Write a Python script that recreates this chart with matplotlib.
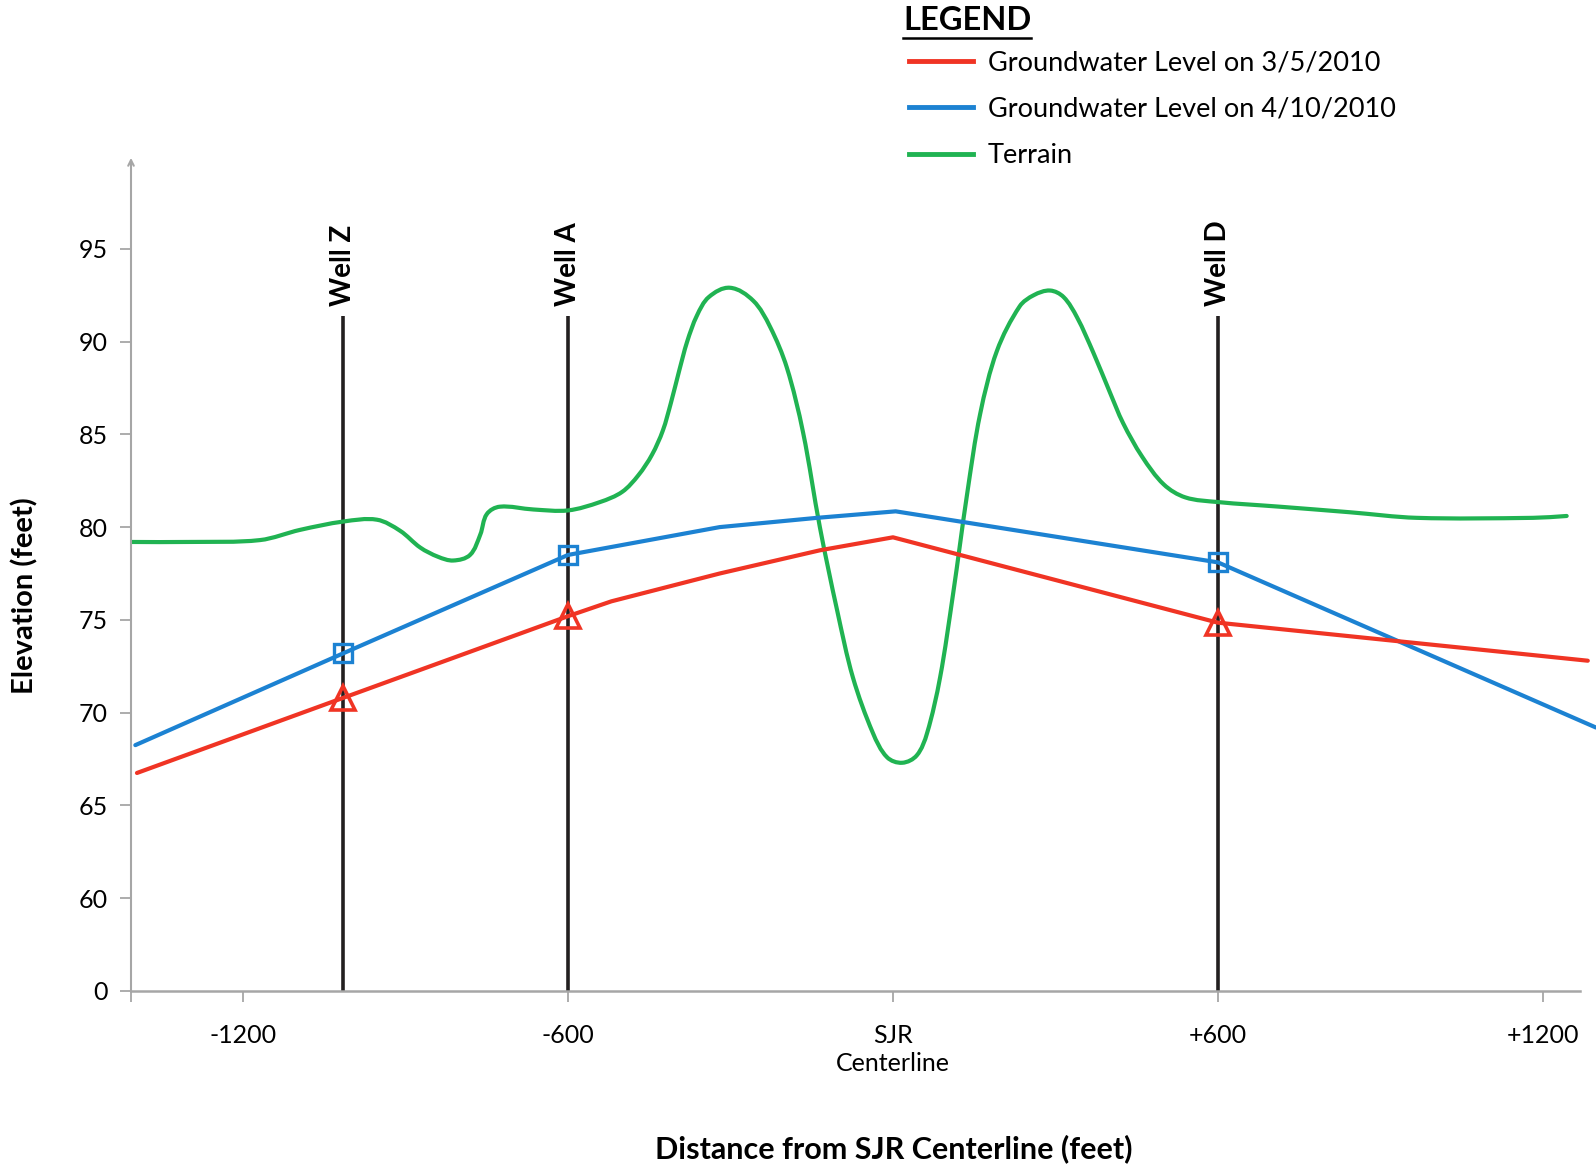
import matplotlib
matplotlib.use("Agg")
import matplotlib.pyplot as plt
import numpy as np
from matplotlib.lines import Line2D
from matplotlib.path import Path
from matplotlib.patches import PathPatch

plt.rcParams['font.family'] = ['Lato', 'DejaVu Sans']

# distance from SJR centerline (feet) and elevation (feet)
red_x = [-1396, -1015, -600, -520, -320, -135, 0, 600, 1283]
red_y = [66.75, 70.8, 75.2, 76.0, 77.5, 78.75, 79.45, 74.85, 72.8]

blue_x = [-1399, -1015, -600, -320, -140, 5, 600, 1298]
blue_y = [68.25, 73.2, 78.5, 80.0, 80.5, 80.85, 78.1, 69.2]

terrain_x = [-1410, -1300, -1169, -1095, -1015, -953, -910, -873, -840, -812,
             -781, -762, -750, -726, -664, -600, -541, -500, -470,
             -445, -425, -410, -395, -380, -362, -340, -301, -258, -227,
             -196, -166, -135, -103, -74, -37, -11, 17, 44, 63,
             87, 111, 137, 161, 192, 234, 260, 290, 315, 340,
             370, 400, 425, 460, 500, 540, 600, 714, 844,
             967, 1182, 1244]
terrain_y = [79.2, 79.2, 79.3, 79.85, 80.3, 80.4, 79.8, 78.9, 78.4, 78.2,
             78.5, 79.6, 80.7, 81.1, 80.95, 80.9, 81.35, 81.9, 82.8,
             83.9, 85.2, 86.7, 88.4, 90.0, 91.4, 92.4, 92.9, 92.2, 90.8,
             88.6, 85.1, 80.0, 75.5, 71.9, 68.9, 67.6, 67.3, 67.7, 68.9,
             71.9, 76.4, 81.8, 86.1, 89.5, 91.9, 92.5, 92.75, 92.4, 91.3,
             89.4, 87.3, 85.6, 83.8, 82.3, 81.6, 81.35, 81.1, 80.8,
             80.5, 80.5, 80.6]

wells = ["Well Z", "Well A", "Well D"]
well_x = [-1015, -600, 600]
well_top = 91.4

x_ticks = [-1200, -600, 0, 600, 1200]
x_labels = ["-1200", "-600", "SJR\nCenterline", "+600", "+1200"]
# the axis is broken: the bottom tick (drawn at 55) stands for 0
y_ticks = [55, 60, 65, 70, 75, 80, 85, 90, 95]
y_labels = ["0", "60", "65", "70", "75", "80", "85", "90", "95"]

legend_labels = ["Groundwater Level on 3/5/2010",
                 "Groundwater Level on 4/10/2010",
                 "Terrain"]

RED = "#f03424"
BLUE = "#1c82d2"
GREEN = "#20b352"
GRAY = "#a6a6a6"
XMIN, XMAX = -1407, 1300


def smooth_path(xs, ys, sx=325 / 600, sy=18.56):
    # smoothed line through the points, drawn as cubic Bezier segments;
    # tangents are worked out in (roughly) screen units so the curve is even
    p = np.column_stack([np.asarray(xs) * sx, np.asarray(ys) * sy])
    n = len(p)
    tang = np.zeros_like(p)
    for i in range(n):
        d = p[min(i + 1, n - 1)] - p[max(i - 1, 0)]
        tang[i] = d / np.hypot(*d)
    verts = [p[0]]
    codes = [Path.MOVETO]
    for i in range(n - 1):
        seg = np.hypot(*(p[i + 1] - p[i])) / 3
        verts += [p[i] + tang[i] * seg, p[i + 1] - tang[i + 1] * seg,
                  p[i + 1]]
        codes += [Path.CURVE4] * 3
    verts = np.array(verts) / [sx, sy]
    return Path(verts, codes)


def main():
    fig = plt.figure(figsize=(15.96, 11.67), dpi=100)
    ax = fig.add_axes([131 / 1596, 176 / 1167, 1466 / 1596, 835 / 1167])

    ax.vlines(well_x, 55, well_top, color="#231f20", lw=2.6, zorder=2)
    for name, x in zip(wells, well_x):
        ax.text(x, well_top + 0.5, name, rotation=90, ha="center",
                va="bottom", fontsize=20, fontweight="bold")

    ax.add_patch(PathPatch(smooth_path(terrain_x, terrain_y), fill=False,
                           edgecolor=GREEN, lw=3, zorder=3,
                           capstyle="round", joinstyle="round"))
    ax.plot(blue_x, blue_y, color=BLUE, lw=3, zorder=4, marker="s",
            markevery=[1, 2, 6], ms=13, mfc="none", mew=2.4,
            solid_capstyle="round")
    ax.plot(red_x, red_y, color=RED, lw=3, zorder=4, marker="^",
            markevery=[1, 2, 7], ms=17, mfc="none", mew=2.6,
            solid_capstyle="round")

    ax.set_xlim(XMIN, XMAX)
    ax.set_ylim(55, 100)
    ax.set_xticks(x_ticks)
    ax.set_xticklabels(x_labels, fontsize=18, linespacing=1.25)
    ax.set_xticks([XMIN], minor=True)
    ax.set_yticks(y_ticks)
    ax.set_yticklabels(y_labels, fontsize=18)
    ax.tick_params(axis="both", which="both", direction="out", length=8,
                   width=1.3, color=GRAY)
    ax.tick_params(axis="x", pad=16)
    ax.tick_params(axis="y", pad=9)

    for s in ["top", "right", "left"]:
        ax.spines[s].set_visible(False)
    ax.spines["bottom"].set_color(GRAY)
    ax.spines["bottom"].set_linewidth(1.8)
    ax.spines["bottom"].set_bounds(XMIN, 1268)
    ax.annotate("", xy=(XMIN, 99.9), xytext=(XMIN, 55),
                xycoords="data", annotation_clip=False,
                arrowprops=dict(arrowstyle="->", color=GRAY, lw=1.5,
                                shrinkA=0, shrinkB=0))

    ax.set_ylabel("Elevation (feet)", fontsize=21, fontweight="bold")
    ax.yaxis.set_label_coords(-0.063, 0.474)
    ax.set_xlabel("Distance from SJR Centerline (feet)", fontsize=22,
                  fontweight="bold")
    ax.xaxis.set_label_coords(0.52, -0.172)

    handles = [Line2D([], [], color=c, lw=3.5) for c in (RED, BLUE, GREEN)]
    fig.legend(handles, legend_labels, loc="upper left",
               bbox_to_anchor=(909 / 1596, 1 - 50 / 1167), frameon=False,
               fontsize=19.5, handlelength=2.35, handletextpad=0.55,
               labelspacing=0.8, borderpad=0, borderaxespad=0)

    t = fig.text(903 / 1596, 1 - 21 / 1167, "LEGEND", fontsize=23.5,
                 fontweight="bold", ha="left", va="center")
    fig.canvas.draw()
    bb = t.get_window_extent()
    fig.add_artist(Line2D([bb.x0 / 1596, bb.x1 / 1596],
                          [(bb.y0 - 2) / 1167, (bb.y0 - 2) / 1167],
                          transform=fig.transFigure, color="black", lw=1.8))

    fig.savefig("out.png", dpi=100)


if __name__ == "__main__":
    main()
